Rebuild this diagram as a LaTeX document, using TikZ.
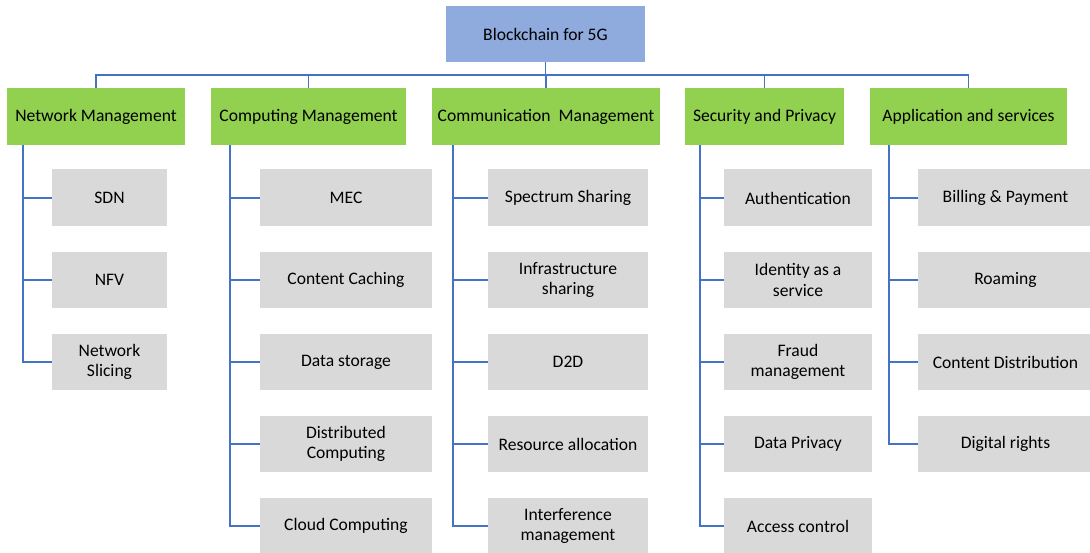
\documentclass[tikz,border=0pt]{standalone}
\usepackage{fontspec}
\setmainfont{Carlito}
\definecolor{rootblue}{RGB}{143,170,220}
\definecolor{catgreen}{RGB}{146,208,80}
\definecolor{leafgray}{RGB}{217,217,217}
\definecolor{linkblue}{RGB}{68,114,196}
\begin{document}
\begin{tikzpicture}[x=0.02cm,y=-0.02cm,
        font=\fontsize{10}{11.5}\selectfont,
        box/.style={inner sep=0pt,align=center,text=black},
        top/.style={box,fill=rootblue,minimum width=3.98cm,minimum height=1.12cm},
        cat/.style={box,fill=catgreen,minimum height=1.14cm},
        leaf/.style={box,fill=leafgray,minimum height=1.14cm},
        link/.style={draw=linkblue,line width=0.7pt}]
    \useasboundingbox (0,0) rectangle (1090,553);
    \node[top] (root) at (545.5,34) {Blockchain for 5G};
    \coordinate (bus) at (0,75);
    % second level
    \foreach[count=\i] \x/\w/\t in {96/3.56/Network Management,308.5/3.9/Computing Management,
            546/4.56/{Communication\ \ Management},764.5/3.18/Security and Privacy,968.5/3.94/Application and services} {
        \node[cat,minimum width=\w cm] (cat\i) at (\x,116.5) {\t};
        \draw[link] (root.south) |- (bus -| cat\i.north) -- (cat\i.north);
    }
    % spines
    \foreach[count=\i] \x in {23,230,453,700,889}
        \coordinate (s\i) at (\x,0);
    % leaves
    \foreach[count=\j] \t in {SDN,NFV,{Network\\Slicing}} {
        \node[leaf,minimum width=2.3cm] (l1-\j) at (109.5,116+82*\j) {\t};
        \draw[link] (s1 |- cat1.south) |- (l1-\j.west);
    }
    \foreach[count=\j] \t in {MEC,Content Caching,Data storage,{Distributed\\Computing},Cloud Computing} {
        \node[leaf,minimum width=3.44cm] (l2-\j) at (346,116+82*\j) {\t};
        \draw[link] (s2 |- cat2.south) |- (l2-\j.west);
    }
    \foreach[count=\j] \t in {Spectrum Sharing,{Infrastructure\\sharing},D2D,Resource allocation,{Interference\\management}} {
        \node[leaf,minimum width=3.2cm] (l3-\j) at (568,116+82*\j) {\t};
        \draw[link] (s3 |- cat3.south) |- (l3-\j.west);
    }
    \foreach[count=\j] \t in {Authentication,{Identity as a\\service},{Fraud\\management},Data Privacy,Access control} {
        \node[leaf,minimum width=2.96cm] (l4-\j) at (798,116+82*\j) {\t};
        \draw[link] (s4 |- cat4.south) |- (l4-\j.west);
    }
    \foreach[count=\j] \t in {Billing \& Payment,Roaming,Content Distribution,Digital rights} {
        \node[leaf,minimum width=3.5cm] (l5-\j) at (1005.5,116+82*\j) {\t};
        \draw[link] (s5 |- cat5.south) |- (l5-\j.west);
    }
\end{tikzpicture}
\end{document}
